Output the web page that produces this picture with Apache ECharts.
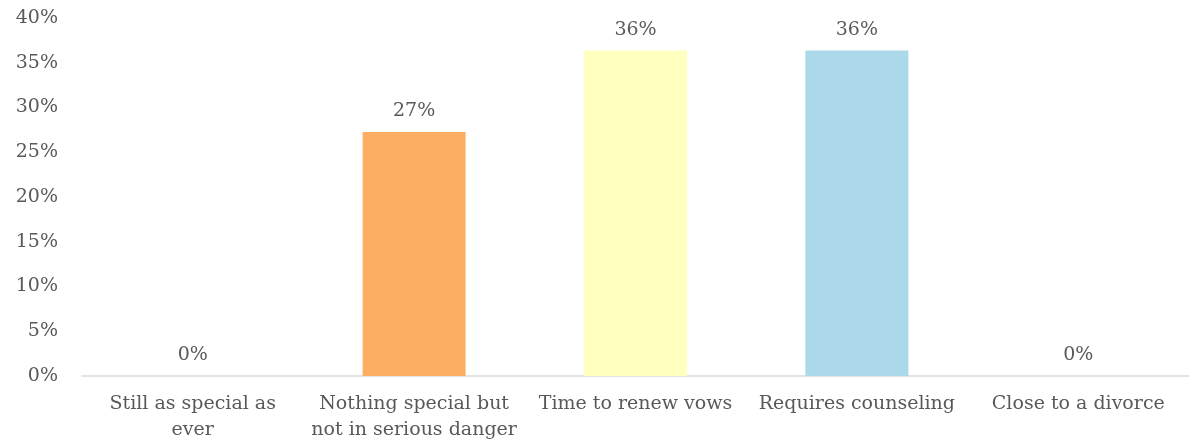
<!DOCTYPE html>
<html>
<head>
<meta charset="utf-8">
<script src="https://cdn.jsdelivr.net/npm/echarts@6/dist/echarts.min.js"></script>
<style>
  html, body { margin: 0; padding: 0; background: #fff; }
  #chart { width: 1189px; height: 445px; }
</style>
</head>
<body>
<div id="chart"></div>
<script>
  // survey answers, share of respondents (%)
  const categories = [
    'Still as special as\never',
    'Nothing special but\nnot in serious danger',
    'Time to renew vows',
    'Requires counseling',
    'Close to a divorce'
  ]
  const values = [0, 27.27, 36.36, 36.36, 0]
  const barColors = ['#FCAE62', '#FCAE62', '#FFFFC0', '#ABD9E9', '#ABD9E9']
  const yTicks = [0, 5, 10, 15, 20, 25, 30, 35, 40]

  const myChart = echarts.init(document.getElementById('chart'))
  const font = 'DejaVu Serif'

  const option = {
    animation: false,
    backgroundColor: '#ffffff',
    grid: {
      left: 82,
      right: -8,
      top: 18,
      bottom: 69,
      containLabel: false
    },
    xAxis: {
      type: 'category',
      data: categories,
      axisLine: { lineStyle: { color: '#d9d9d9', width: 1.5 } },
      axisTick: { show: false },
      axisLabel: {
        color: '#595959',
        fontFamily: font,
        fontSize: 19,
        lineHeight: 26,
        margin: 15,
        interval: 0
      }
    },
    yAxis: {
      type: 'value',
      min: yTicks[0],
      max: yTicks[yTicks.length - 1],
      interval: 5,
      splitLine: { show: false },
      axisLine: { show: false },
      axisTick: { show: false },
      axisLabel: {
        color: '#595959',
        fontFamily: font,
        fontSize: 19,
        margin: 24,
        formatter: v => v + '%'
      }
    },
    series: [{
      type: 'bar',
      data: values.map((v, i) => ({ value: v, itemStyle: { color: barColors[i] } })),
      barWidth: 103,
      label: {
        show: true,
        position: 'top',
        distance: 11,
        color: '#595959',
        fontFamily: font,
        fontSize: 19,
        formatter: p => Math.round(p.value) + '%'
      }
    }]
  }

  myChart.setOption(option)
</script>
</body>
</html>
